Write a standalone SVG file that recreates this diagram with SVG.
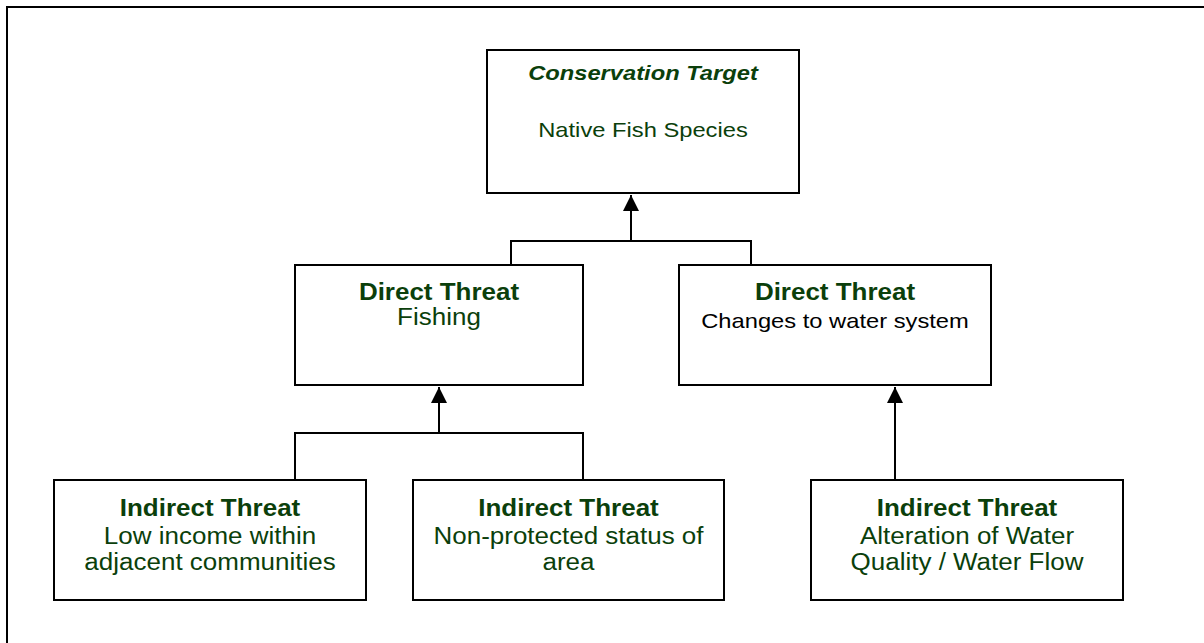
<svg xmlns="http://www.w3.org/2000/svg" width="1204" height="643" viewBox="0 0 1204 643">
<defs>
<style>
.box{fill:#fff;stroke:#000;stroke-width:2}
.t{font-family:"Liberation Sans",Arial,sans-serif;text-anchor:middle;fill:#0b3f0b}
.b{font-weight:bold}
.bi{font-weight:bold;font-style:italic}
.k{fill:#000}
.s21{font-size:21px}
.s23{font-size:23px}
.ln{fill:none;stroke:#000;stroke-width:2}
</style>
<marker id="ah" markerWidth="8" markerHeight="8" refX="8" refY="4" orient="auto" markerUnits="strokeWidth">
<path d="M0,0 L8,4 L0,8 Z" fill="#000"/>
</marker>
</defs>
<rect width="1204" height="643" fill="#fff"/>
<path d="M7,643 V7 H1204" fill="none" stroke="#000" stroke-width="2"/>
<g id="connectors">
<path class="ln" d="M511,265 V241 H751 V265"/>
<path class="ln" d="M631,241 V195" marker-end="url(#ah)"/>
<path class="ln" d="M295,480 V433 H583 V480"/>
<path class="ln" d="M439,433 V387" marker-end="url(#ah)"/>
<path class="ln" d="M895,480 V387" marker-end="url(#ah)"/>
</g>
<g id="target">
<rect class="box" x="487" y="50" width="312" height="143"/>
<text class="t bi s21" transform="translate(643,0) scale(1.13,1)" x="0" y="80">Conservation Target</text>
<text class="t s21" transform="translate(643,0) scale(1.13,1)" x="0" y="137">Native Fish Species</text>
</g>
<g id="direct-fishing">
<rect class="box" x="295" y="265" width="288" height="120"/>
<text class="t b s23" transform="translate(439,0) scale(1.13,1)" x="0" y="300">Direct Threat</text>
<text class="t s23" transform="translate(439,0) scale(1.13,1)" x="0" y="325">Fishing</text>
</g>
<g id="direct-water">
<rect class="box" x="679" y="265" width="312" height="120"/>
<text class="t b s23" transform="translate(835,0) scale(1.13,1)" x="0" y="300">Direct Threat</text>
<text class="t k s21" transform="translate(835,0) scale(1.13,1)" x="0" y="328">Changes to water system</text>
</g>
<g id="indirect-income">
<rect class="box" x="54" y="480" width="312" height="120"/>
<text class="t b s23" transform="translate(210,0) scale(1.13,1)" x="0" y="516">Indirect Threat</text>
<text class="t s23" transform="translate(210,0) scale(1.13,1)" x="0" y="544">Low income within</text>
<text class="t s23" transform="translate(210,0) scale(1.13,1)" x="0" y="570">adjacent communities</text>
</g>
<g id="indirect-status">
<rect class="box" x="413" y="480" width="311" height="120"/>
<text class="t b s23" transform="translate(568.5,0) scale(1.13,1)" x="0" y="516">Indirect Threat</text>
<text class="t s23" transform="translate(568.5,0) scale(1.13,1)" x="0" y="544">Non-protected status of</text>
<text class="t s23" transform="translate(568.5,0) scale(1.13,1)" x="0" y="570">area</text>
</g>
<g id="indirect-water">
<rect class="box" x="811" y="480" width="312" height="120"/>
<text class="t b s23" transform="translate(967,0) scale(1.13,1)" x="0" y="516">Indirect Threat</text>
<text class="t s23" transform="translate(967,0) scale(1.13,1)" x="0" y="544">Alteration of Water</text>
<text class="t s23" transform="translate(967,0) scale(1.13,1)" x="0" y="570">Quality / Water Flow</text>
</g>
</svg>
